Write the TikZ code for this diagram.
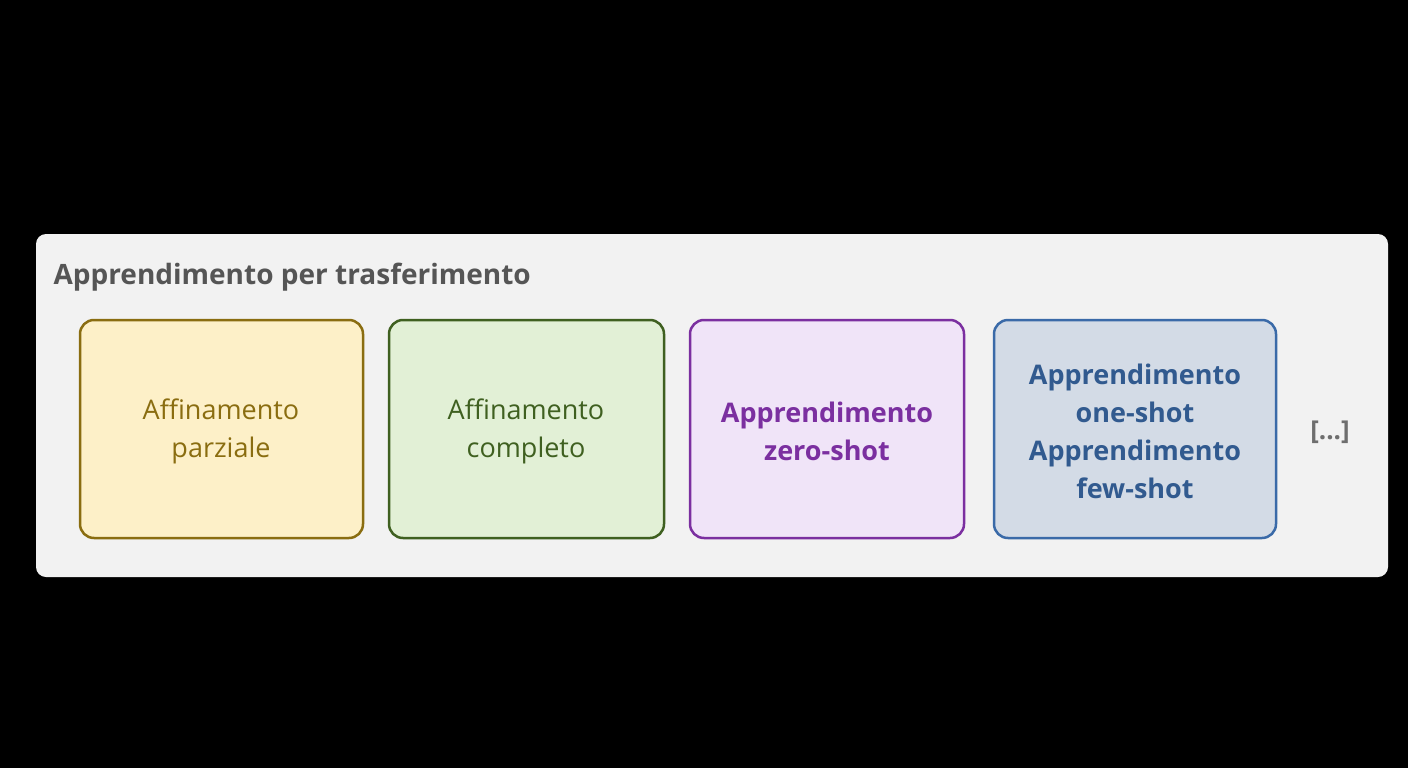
\documentclass[tikz,border=0pt]{standalone}
\usepackage{fontspec}
\setmainfont{Open Sans}
\begin{document}
\begin{tikzpicture}[x=1pt,y=-1pt,
  card/.style={draw=#1,line width=2.5pt,rounded corners=14pt},
  lbl/.style={align=center,font=\fontsize{27}{38}\selectfont,text=#1}]
\useasboundingbox (0,0) rectangle (1408,768);
\fill[black] (0,0) rectangle (1408,768);
\fill[rounded corners=10pt,fill={rgb,255:red,242;green,242;blue,242}] (36,234) rectangle (1388,577);
\node[anchor=west,font=\bfseries\fontsize{28}{32}\selectfont,text={rgb,255:red,85;green,85;blue,85}] (title) at (50,277) {Apprendimento per trasferimento};
\definecolor{c1}{RGB}{138,109,16}\definecolor{f1}{RGB}{253,240,200}
\definecolor{c2}{RGB}{63,96,32}\definecolor{f2}{RGB}{226,240,214}
\definecolor{c3}{RGB}{123,47,160}\definecolor{f3}{RGB}{240,228,248}
\definecolor{c4}{RGB}{58,106,168}\definecolor{f4}{RGB}{211,219,230}
\filldraw[card=c1,fill=f1] (80,320) rectangle (363,538);
\filldraw[card=c2,fill=f2] (389,320) rectangle (664,538);
\filldraw[card=c3,fill=f3] (690,320) rectangle (964,538);
\filldraw[card=c4,fill=f4] (994,320) rectangle (1276,538);
\node[lbl=c1] (a) at (221,431) {Affinamento\\parziale};
\node[lbl=c2] (b) at (526,431) {Affinamento\\completo};
\node[lbl=c3,font=\bfseries\fontsize{27}{38}\selectfont] (c) at (827,431) {Apprendimento\\zero-shot};
\node[lbl=c4,font=\bfseries\fontsize{27}{38}\selectfont,text=c4!85!black] (d) at (1135,431) {Apprendimento\\one-shot\\Apprendimento\\few-shot};
\node[font=\bfseries\fontsize{26}{30}\selectfont,text={rgb,255:red,110;green,110;blue,110}] (e) at (1330,432) {[...]};
\end{tikzpicture}
\end{document}
